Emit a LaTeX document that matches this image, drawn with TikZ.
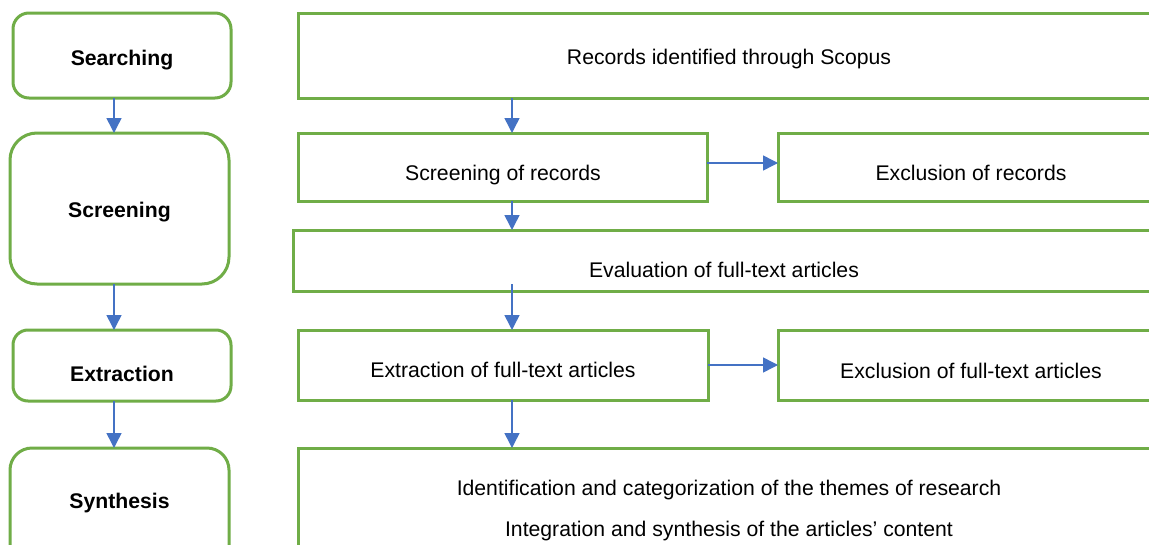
\documentclass[tikz,border=0pt]{standalone}
\usepackage{fontspec}
\setmainfont{Liberation Sans}
\usetikzlibrary{arrows.meta,calc}
\definecolor{boxgreen}{HTML}{70AD47}
\definecolor{arrowblue}{HTML}{4472C4}
\begin{document}
\begin{tikzpicture}[x=1pt,y=-1pt,
  stagebox/.style={draw=boxgreen,line width=3pt,fill=white,inner sep=0pt,outer sep=0pt},
  flowbox/.style={draw=boxgreen,line width=3pt,fill=white,inner sep=0pt,outer sep=0pt},
  lbl/.style={anchor=base,inner sep=0pt,font=\fontsize{21.2}{25}\selectfont},
  blbl/.style={lbl,font=\fontsize{21.2}{25}\selectfont\bfseries},
  flow/.style={draw=arrowblue,line width=1.5pt,-{Triangle[width=15pt,length=15pt]}}]
\clip (0,0) rectangle (1149,544);
\fill[white] (0,0) rectangle (1149,544);
% stage boxes (left column)
\node[stagebox,rounded corners=16pt,minimum width=218pt,minimum height=85pt] (search) at (122,55.5) {};
\node[stagebox,rounded corners=27pt,minimum width=219pt,minimum height=151pt] (screen) at (119.5,208.5) {};
\node[stagebox,rounded corners=15pt,minimum width=218pt,minimum height=71pt] (extract) at (122,365.5) {};
\node[stagebox,rounded corners=22pt,minimum width=219pt,minimum height=150pt] (synth) at (119.5,523) {};
\node[blbl] (tsearch) at (122,65) {Searching};
\node[blbl] (tscreen) at (119.5,217) {Screening};
\node[blbl] (textract) at (122,381) {Extraction};
\node[blbl] (tsynth) at (119.5,508) {Synthesis};
% flow boxes (right part)
\node[flowbox,minimum width=862pt,minimum height=85pt] (records) at (729,55.5) {};
\node[flowbox,minimum width=409pt,minimum height=68pt] (scrrec) at (502.5,167) {};
\node[flowbox,minimum width=386pt,minimum height=68pt] (exclrec) at (971,167) {};
\node[flowbox,minimum width=862pt,minimum height=61pt] (evalft) at (724,260.5) {};
\node[flowbox,minimum width=410pt,minimum height=70pt] (extft) at (503,365) {};
\node[flowbox,minimum width=386pt,minimum height=70pt] (exclft) at (971,365) {};
\node[flowbox,minimum width=862pt,minimum height=152pt] (synres) at (729,524) {};
\node[lbl] (trecords) at (729,64) {Records identified through Scopus};
\node[lbl] (tscrrec) at (503,180) {Screening of records};
\node[lbl] (texclrec) at (971,180) {Exclusion of records};
\node[lbl] (tevalft) at (724,277) {Evaluation of full-text articles};
\node[lbl] (textft) at (503,377) {Extraction of full-text articles};
\node[lbl] (texclft) at (971,378) {Exclusion of full-text articles};
\node[lbl] (tsyn1) at (729,495) {Identification and categorization of the themes of research};
\node[lbl] (tsyn2) at (729,536) {Integration and synthesis of the articles’ content};
% guide coordinates
\coordinate (colL) at (114,0);
\coordinate (colR) at (512,0);
\coordinate (rowA) at (0,163);
\coordinate (rowB) at (0,365);
\coordinate (evalstart) at (512,284);
% connectors
\draw[flow] (search.south -| colL) -- (screen.north -| colL);
\draw[flow] (screen.south -| colL) -- (extract.north -| colL);
\draw[flow] (extract.south -| colL) -- (synth.north -| colL);
\draw[flow] (records.south -| colR) -- (scrrec.north -| colR);
\draw[flow] (scrrec.south -| colR) -- (evalft.north -| colR);
\draw[flow] (evalstart) -- (extft.north -| colR);
\draw[flow] (extft.south -| colR) -- (synres.north -| colR);
\draw[flow] (scrrec.east |- rowA) -- (exclrec.west |- rowA);
\draw[flow] (extft.east |- rowB) -- (exclft.west |- rowB);
\end{tikzpicture}
\end{document}
